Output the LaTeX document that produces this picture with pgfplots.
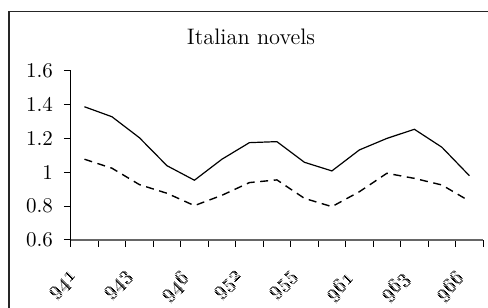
\documentclass[border=0pt]{standalone}
\usepackage{fix-cm}
\usepackage{pgfplots}
\pgfplotsset{compat=1.18}
\begin{document}
\begin{tikzpicture}
\useasboundingbox (0,0) rectangle (244pt,-154pt);
\draw[line width=0.8pt, black!85] (4.5pt,-160pt) -- (4.5pt,-5.85pt) -- (250pt,-5.85pt);
\node[anchor=base, font=\fontsize{11.2}{13}\selectfont, inner sep=0pt] at (125.5pt,-22.2pt) {Italian novels};
\begin{axis}[
  at={(35.35pt,-120pt)}, anchor=south west,
  scale only axis, width=206.2pt, height=84.65pt,
  xmin=-0.5, xmax=14.5, ymin=0.6, ymax=1.6,
  axis x line*=bottom, axis y line*=left,
  x axis line style={-, black!60, line width=0.9pt},
  y axis line style={-, black, line width=0.5pt},
  xtick={0,2,4,6,8,10,12,14},
  xticklabels={\oldstylenums{941},\oldstylenums{943},\oldstylenums{946},\oldstylenums{952},\oldstylenums{955},\oldstylenums{961},\oldstylenums{963},\oldstylenums{966}},
  minor xtick={-0.5,0.5,...,14.5},
  xticklabel style={xshift=-7pt, yshift=-10pt, rotate=45, anchor=north east},
  ytick={0.6,0.8,1,1.2,1.4,1.6},
  minor ytick={0.6,0.8,1,1.2,1.4,1.6},
  yticklabel style={xshift=-5.4pt},
  tick align=outside,
  major tick length=0pt,
  minor tick length=3.4pt,
  tick style={black, line width=0.5pt},
  ticklabel style={font=\fontsize{10.5}{12}\selectfont},
  clip=false,
]
\addplot[black, line width=0.6pt] coordinates {
(0,1.387) (1,1.328) (2,1.204) (3,1.039) (4,0.953) (5,1.077) (6,1.175) (7,1.181)
(8,1.059) (9,1.008) (10,1.132) (11,1.200) (12,1.254) (13,1.148) (14,0.980)};
\addplot[black, line width=0.7pt, dash pattern=on 4pt off 2.8pt] coordinates {
(0,1.077) (1,1.024) (2,0.927) (3,0.876) (4,0.803) (5,0.864) (6,0.939) (7,0.955)
(8,0.846) (9,0.797) (10,0.885) (11,0.994) (12,0.964) (13,0.925) (14,0.830)};
\end{axis}
\end{tikzpicture}
\end{document}
